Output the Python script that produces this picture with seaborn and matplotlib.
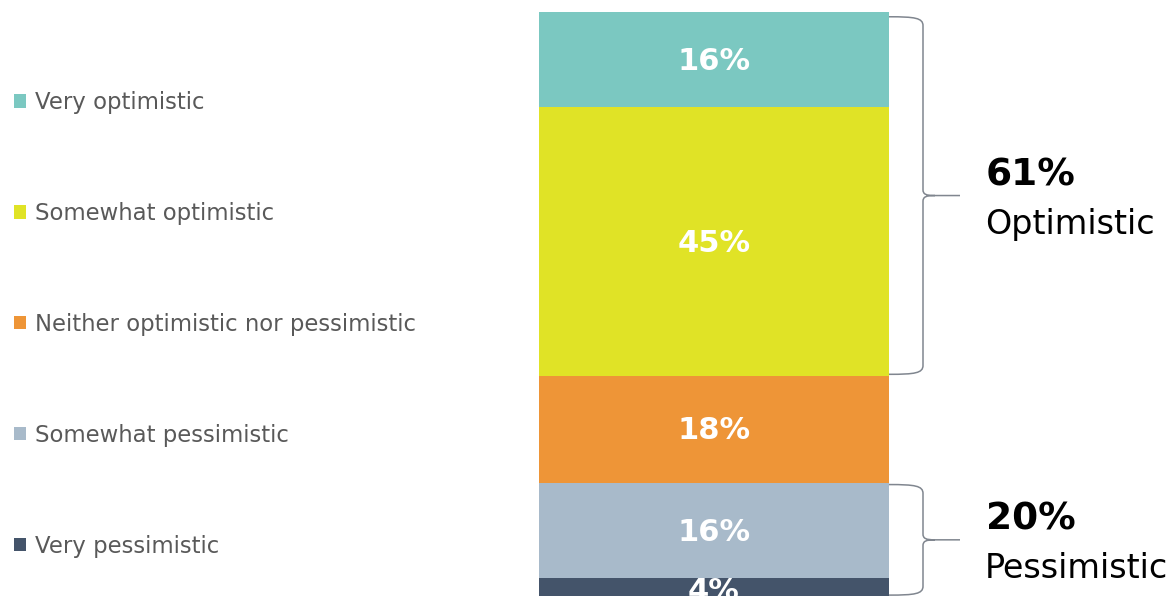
import matplotlib
matplotlib.use("Agg")
import matplotlib.pyplot as plt
import matplotlib.transforms as mtransforms
from matplotlib.path import Path
from matplotlib.patches import PathPatch, Patch
import seaborn as sns
import pandas as pd

# ---- data ----
categories = ["Very pessimistic", "Somewhat pessimistic",
              "Neither optimistic nor pessimistic",
              "Somewhat optimistic", "Very optimistic"]
values = [4, 16, 18, 45, 16]
colors = ["#44546A", "#A8BACA", "#EE9537", "#E0E326", "#7BC8C1"]
group_labels = ["Pessimistic", "Optimistic"]
group_totals = [20, 61]
group_members = [[0, 1], [3, 4]]

sns.set_theme(style="white")
plt.rcParams["font.family"] = ["DejaVu Sans"]

W, H, DPI = 1175, 596, 100
YLO, YHI = 1, 99
fig = plt.figure(figsize=(W / DPI, H / DPI), dpi=DPI)
ax = fig.add_axes([539 / W, 0, 350 / W, (H - 12) / H])

bottoms = []
cum = 0
for cat, val, col in zip(categories, values, colors):
    df = pd.DataFrame({"g": ["all"], "v": [val]})
    sns.barplot(data=df, x="g", y="v", bottom=cum, color=col, width=1.0,
                saturation=1, ax=ax, linewidth=0)
    bottoms.append(cum)
    ax.text(0, cum + val / 2 - 0.3, f"{val}%", ha="center", va="center",
            color="white", fontsize=22, fontweight="bold")
    cum += val

ax.set_xlim(-0.5, 0.5)
ax.set_ylim(YLO, YHI)
ax.axis("off")

# ---- braces ----
tr = mtransforms.blended_transform_factory(ax.transAxes, ax.transData)
px = 1 / 350.0
for lab, tot, members in zip(group_labels, group_totals, group_members):
    y0 = max(bottoms[members[0]] + 0.2, YLO + 0.15)
    y1 = min(bottoms[members[-1]] + values[members[-1]] - 0.3, YHI - 0.8)
    ym = (y0 + y1) / 2
    x0 = 1.0
    xv = 1 + 34 * px
    xt = 1 + 71 * px
    r = 1.5
    r2 = 1.0
    verts = [(x0, y1), (xv - 8 * px, y1), (xv, y1 - 0.2), (xv, y1 - r),
             (xv, ym + r2),
             (xv, ym + 0.2), (xv + 3 * px, ym), (xv + 12 * px, ym),
             (xt, ym),
             (xv + 12 * px, ym),
             (xv + 3 * px, ym), (xv, ym - 0.2), (xv, ym - r2),
             (xv, y0 + r),
             (xv, y0 + 0.2), (xv - 8 * px, y0), (x0, y0)]
    codes = [Path.MOVETO, Path.CURVE4, Path.CURVE4, Path.CURVE4,
             Path.LINETO,
             Path.CURVE4, Path.CURVE4, Path.CURVE4,
             Path.LINETO,
             Path.MOVETO,
             Path.CURVE4, Path.CURVE4, Path.CURVE4,
             Path.LINETO,
             Path.CURVE4, Path.CURVE4, Path.CURVE4]
    ax.add_patch(PathPatch(Path(verts, codes), transform=tr, fill=False,
                           edgecolor="#80868F", linewidth=1.1, clip_on=False))
    ax.annotate(f"{tot}%", xy=(1, ym), xycoords=tr, xytext=(97, 10),
                textcoords="offset pixels", ha="left", va="baseline",
                fontsize=27, fontweight="bold", color="black")
    ax.annotate(lab, xy=(1, ym), xycoords=tr, xytext=(96, -38),
                textcoords="offset pixels", ha="left", va="baseline",
                fontsize=24, color="black")

# ---- legend ----
handles = [Patch(facecolor=c, edgecolor="none") for c in colors][::-1]
labels = categories[::-1]
leg = fig.legend(handles, labels, loc="upper left",
                 bbox_to_anchor=(14 / W, 1 - 91 / H), frameon=False,
                 fontsize=16.4, labelcolor="#595959", handlelength=0.53,
                 handleheight=0.53, handletextpad=0.38, labelspacing=3.86,
                 borderpad=0, borderaxespad=0)

fig.savefig("out.png", dpi=DPI)
